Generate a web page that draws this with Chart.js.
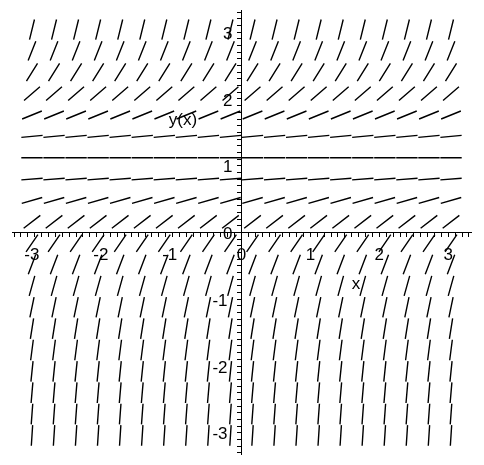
<!DOCTYPE html>
<html><head><meta charset="utf-8">
<script src="https://cdn.jsdelivr.net/npm/chart.js@4/dist/chart.umd.min.js"></script>
<style>html,body{margin:0;padding:0;background:#fff}#wrap{width:484px;height:465px}</style>
</head><body><div id="wrap"><canvas id="c" width="484" height="465"></canvas></div>
<script>
// grid of direction-field sample points (x and y centres)
const gridX = [-3.04, -2.72, -2.40, -2.08, -1.76, -1.44, -1.12, -0.80, -0.48, -0.16,
               0.16, 0.48, 0.80, 1.12, 1.44, 1.76, 2.08, 2.40, 2.72, 3.04];
const gridY = [-3.04, -2.72, -2.40, -2.08, -1.76, -1.44, -1.12, -0.80, -0.48, -0.16,
               0.16, 0.48, 0.80, 1.12, 1.44, 1.76, 2.08, 2.40, 2.72, 3.04];
// slope dy/dx read for each row (same across a row)
const rowSlopes = [16, 14, 12, 10, 8, 6.5, 5, 3.7, 2.7, 1.5,
                   0.8, 0.3, 0.08, 0, 0.1, 0.42, 0.9, 1.65, 2.6, 4.2];
const axisMin = -3.33, axisMax = 3.33;
const tickStep = 0.1;
const majorTickLabels = ['-3', '-2', '-1', '0', '1', '2', '3'];
const xTitle = 'x';
const yTitle = 'y(x)';

const FONT = '"Liberation Sans", Arial, sans-serif';
const halfLen = 0.155;

const datasets = gridY.map((yc, r) => {
  const m = rowSlopes[r];
  const dx = halfLen / Math.sqrt(1 + m * m), dy = m * dx;
  const pts = [];
  gridX.forEach(xc => {
    pts.push({x: xc - dx, y: yc - dy}, {x: xc + dx, y: yc + dy}, {x: xc, y: null});
  });
  return {data: pts, showLine: true, borderColor: '#000', borderWidth: 1.4,
          pointRadius: 0, spanGaps: false, fill: false, tension: 0};
});

const axisCommon = {
  type: 'linear', min: axisMin, max: axisMax,
  grid: {display: true, drawOnChartArea: false, drawTicks: true, tickLength: 4, color: '#000', tickWidth: 1},
  border: {display: true, color: '#000', width: 1},
};

// draws the major tick labels (Maple style: digit centred on the tick, minus hanging left)
// and the two axis titles, all positioned through the chart's own scales
const labelPlugin = {
  id: 'mapleLabels',
  afterDraw(chart) {
    const {ctx, scales: {x, y}} = chart;
    const x0 = x.getPixelForValue(0), y0 = y.getPixelForValue(0);
    ctx.save();
    ctx.font = '17px ' + FONT;
    ctx.fillStyle = '#000';
    const minusW = ctx.measureText('-').width;
    ctx.textBaseline = 'middle';
    majorTickLabels.forEach(lbl => {
      const v = Number(lbl);
      const neg = lbl.startsWith('-');
      // x-axis label
      ctx.textAlign = 'center';
      ctx.fillText(lbl, x.getPixelForValue(v) - (neg ? minusW / 2 : 0), y0 + 23);
      // y-axis label
      ctx.textAlign = 'right';
      ctx.fillText(lbl, x0 - (neg ? 14 : 9), y.getPixelForValue(v) + 2);
    });
    ctx.textAlign = 'center';
    ctx.fillText(xTitle, x.getPixelForValue(1.66), y.getPixelForValue(-0.78));
    ctx.fillText(yTitle, x.getPixelForValue(-0.85), y.getPixelForValue(1.68));
    ctx.restore();
  }
};

new Chart(document.getElementById('c'), {
  type: 'line',
  data: {datasets},
  plugins: [labelPlugin],
  options: {
    responsive: false, animation: false, devicePixelRatio: 1,
    layout: {padding: {left: 12, right: 13, top: 4, bottom: 2}},
    plugins: {legend: {display: false}, tooltip: {enabled: false}},
    scales: {
      x: Object.assign({}, axisCommon, {
        position: {y: 0},
        ticks: {stepSize: tickStep, includeBounds: false, autoSkip: false, maxRotation: 0,
                callback: () => ''}
      }),
      y: Object.assign({}, axisCommon, {
        position: {x: 0},
        ticks: {stepSize: tickStep, includeBounds: false, autoSkip: false,
                callback: () => ''}
      })
    }
  }
});
</script></body></html>
